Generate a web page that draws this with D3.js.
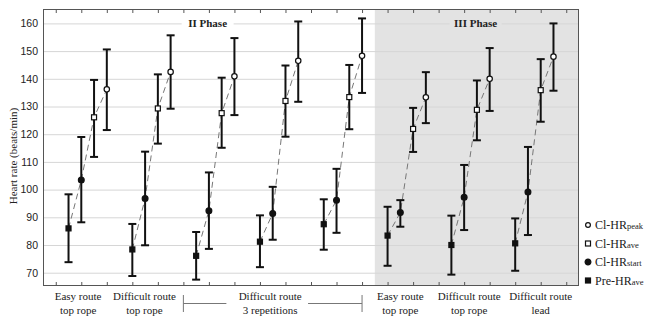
<!DOCTYPE html>
<html>
<head>
<meta charset="utf-8">
<script src="https://cdn.jsdelivr.net/npm/d3@7"></script>
<style>
  body { margin: 0; background: #fff; }
  svg { display: block; }
</style>
</head>
<body>
<script>
'use strict';

// one group per task, four measures each
const groups = ['Easy route top rope (II)', 'Difficult route top rope (II)', 'Rep 1', 'Rep 2', 'Rep 3',
                'Easy route top rope (III)', 'Difficult route top rope (III)', 'Difficult route lead'];

const pre     = [86.0, 78.4, 76.1, 81.2, 87.5, 83.4, 80.0, 80.6];
const preLo   = [73.8, 68.8, 67.5, 72.0, 78.3, 72.5, 69.3, 70.7];
const preHi   = [98.3, 87.6, 84.7, 90.7, 96.5, 93.8, 90.6, 89.6];
const start   = [103.5, 96.8, 92.4, 91.4, 96.2, 91.7, 97.2, 99.1];
const startLo = [88.2, 79.9, 78.6, 81.9, 84.4, 86.6, 85.4, 83.6];
const startHi = [119.0, 113.7, 106.2, 101.0, 107.5, 96.2, 108.9, 115.4];
const ave     = [126.1, 129.3, 127.6, 132.0, 133.4, 121.9, 128.8, 135.9];
const aveLo   = [111.8, 116.6, 115.1, 119.1, 121.8, 113.6, 117.8, 124.5];
const aveHi   = [139.6, 141.6, 140.4, 144.8, 145.0, 129.5, 139.4, 147.1];
const peak    = [136.2, 142.5, 140.9, 146.5, 148.3, 133.3, 140.0, 148.0];
const peakLo  = [121.5, 129.2, 126.9, 131.7, 134.9, 124.0, 128.4, 135.7];
const peakHi  = [150.6, 155.7, 154.7, 160.7, 161.8, 142.4, 151.1, 160.0];

const yTicks = [70, 80, 90, 100, 110, 120, 130, 140, 150, 160];

// x labels, with their centre on the index axis
const xLabels = [['Easy route', 'top rope'], ['Difficult route', 'top rope'], ['Difficult route', '3 repetitions'],
                 ['Easy route', 'top rope'], ['Difficult route', 'top rope'], ['Difficult route', 'lead']];
const xLabelAt = [0.75, 5.95, 15.8, 26.0, 31.4, 37.0];
const bracketFrom = 9, bracketTo = 23;

const phases = ['II Phase', 'III Phase'];
const phaseAt = [10.9, 31.9];
const phaseIIIFrom = 24;

const series = [
  {name: 'Pre-HR', sub: 'ave',   mean: pre,   lo: preLo,   hi: preHi,   shape: 'square', fill: '#111'},
  {name: 'Cl-HR',  sub: 'start', mean: start, lo: startLo, hi: startHi, shape: 'circle', fill: '#111'},
  {name: 'Cl-HR',  sub: 'ave',   mean: ave,   lo: aveLo,   hi: aveHi,   shape: 'square', fill: '#fff'},
  {name: 'Cl-HR',  sub: 'peak',  mean: peak,  lo: peakLo,  hi: peakHi,  shape: 'circle', fill: '#fff'}
];

const width = 662, height = 325;
const margin = {top: 9, right: 83, bottom: 39, left: 43};
const serif = '"Liberation Serif", "Times New Roman", serif';
const sans = '"Liberation Sans", Arial, sans-serif';

const x = d3.scaleLinear().domain([-2, 40]).range([margin.left, width - margin.right]);
const y = d3.scaleLinear().domain([65.2, 165.2]).range([height - margin.bottom, margin.top]);

const svg = d3.select('body').append('svg')
  .attr('width', width)
  .attr('height', height);

// phase III shading
svg.append('rect')
  .attr('x', x(phaseIIIFrom)).attr('y', y.range()[1])
  .attr('width', x(40) - x(phaseIIIFrom)).attr('height', y.range()[0] - y.range()[1])
  .attr('fill', '#e3e3e3');

// grid
svg.append('g').selectAll('line').data(yTicks).join('line')
  .attr('x1', x(-2)).attr('x2', x(40))
  .attr('y1', d => y(d) + 0.5).attr('y2', d => y(d) + 0.5)
  .attr('stroke', '#d6d6d6').attr('stroke-width', 1);

// phase titles with a box in the background colour
const ph = svg.append('g').selectAll('g').data(phases).join('g')
  .attr('transform', (d, i) => `translate(${x(phaseAt[i])},${y(160)})`);
ph.append('rect')
  .attr('x', -26).attr('y', -6).attr('width', 52).attr('height', 12)
  .attr('fill', (d, i) => i === 0 ? '#fff' : '#e3e3e3');
ph.append('text')
  .attr('text-anchor', 'middle').attr('dy', '0.35em')
  .attr('font-family', serif).attr('font-size', 11).attr('font-weight', 'bold')
  .attr('fill', '#222')
  .text(d => d);

const idx = (g, k) => g * 5 + k;

// dashed connectors
const line = d3.line().x(d => x(d[0])).y(d => y(d[1]));
svg.append('g').selectAll('path').data(groups).join('path')
  .attr('d', (d, g) => line(series.map((s, k) => [idx(g, k), s.mean[g]])))
  .attr('fill', 'none').attr('stroke', '#777').attr('stroke-width', 1)
  .attr('stroke-dasharray', '6,4');

// error bars and markers
series.forEach((s, k) => {
  const gEl = svg.append('g');
  const bar = gEl.selectAll('g').data(groups).join('g')
    .attr('stroke', '#111').attr('stroke-width', 2);
  bar.append('line')
    .attr('x1', (d, g) => x(idx(g, k))).attr('x2', (d, g) => x(idx(g, k)))
    .attr('y1', (d, g) => y(s.lo[g])).attr('y2', (d, g) => y(s.hi[g]));
  [s.lo, s.hi].forEach(arr => {
    bar.append('line')
      .attr('x1', (d, g) => x(idx(g, k)) - 4).attr('x2', (d, g) => x(idx(g, k)) + 4)
      .attr('y1', (d, g) => y(arr[g])).attr('y2', (d, g) => y(arr[g]));
  });
  gEl.selectAll('.mk').data(groups).join(d => s.shape === 'circle'
      ? d.append('circle').attr('r', s.fill === '#fff' ? 2.7 : 2.9)
      : d.append('rect').attr('width', 5).attr('height', 5))
    .attr('class', 'mk')
    .attr('cx', (d, g) => x(idx(g, k))).attr('cy', (d, g) => y(s.mean[g]))
    .attr('x', (d, g) => x(idx(g, k)) - 2.5).attr('y', (d, g) => y(s.mean[g]) - 2.5)
    .attr('fill', s.fill).attr('stroke', '#111').attr('stroke-width', 1.2);
});

// frame
svg.append('rect')
  .attr('x', x(-2) + 0.5).attr('y', y.range()[1] + 0.5)
  .attr('width', x(40) - x(-2) - 1).attr('height', y.range()[0] - y.range()[1] - 1)
  .attr('fill', 'none').attr('stroke', '#555').attr('stroke-width', 1);

// inward ticks top and bottom
const xt = d3.range(-1, 40, 2);
svg.append('g')
  .attr('transform', `translate(0,${y.range()[0]})`)
  .call(d3.axisBottom(x).tickValues(xt).tickSizeInner(-4).tickSizeOuter(0).tickFormat(''))
  .call(g => g.select('.domain').remove())
  .call(g => g.selectAll('line').attr('stroke', '#555'));
svg.append('g')
  .attr('transform', `translate(0,${y.range()[1]})`)
  .call(d3.axisTop(x).tickValues(xt).tickSizeInner(-4).tickSizeOuter(0).tickFormat(''))
  .call(g => g.select('.domain').remove())
  .call(g => g.selectAll('line').attr('stroke', '#555'));

// y axis labels
svg.append('g')
  .attr('transform', `translate(${x(-2)},0)`)
  .call(d3.axisLeft(y).tickValues(yTicks).tickSize(0).tickPadding(5))
  .call(g => g.select('.domain').remove())
  .call(g => g.selectAll('text')
    .attr('font-family', sans).attr('font-size', 10.5).attr('fill', '#222'));

svg.append('text')
  .attr('transform', `translate(13,${(y(70) + y(160)) / 2 + 8}) rotate(-90)`)
  .attr('text-anchor', 'middle').attr('dy', '0.35em')
  .attr('font-family', serif).attr('font-size', 11).attr('fill', '#222')
  .text('Heart rate (beats/min)');

// category labels
const xl = svg.append('g').selectAll('text').data(xLabels).join('text')
  .attr('text-anchor', 'middle')
  .attr('font-family', serif).attr('font-size', 11).attr('fill', '#222');
xl.selectAll('tspan').data((d, i) => d.map(t => [t, xLabelAt[i]])).join('tspan')
  .attr('x', d => x(d[1]))
  .attr('y', (d, j) => 300 + j * 14)
  .text(d => d[0]);

// bracket for the three repetitions
const bk = svg.append('g').attr('stroke', '#777').attr('stroke-width', 1);
[bracketFrom, bracketTo].forEach(v => {
  bk.append('line').attr('x1', x(v)).attr('x2', x(v)).attr('y1', 295).attr('y2', 312);
});
bk.append('line').attr('x1', x(bracketFrom)).attr('x2', x(bracketFrom) + 43).attr('y1', 303.5).attr('y2', 303.5);
bk.append('line').attr('x1', x(bracketTo) - 54).attr('x2', x(bracketTo)).attr('y1', 303.5).attr('y2', 303.5);

// legend, peak on top
const leg = svg.append('g').selectAll('g').data(series.slice().reverse()).join('g')
  .attr('transform', (d, i) => `translate(588,${225 + i * 18.5})`);
leg.each(function (s) {
  const g = d3.select(this);
  if (s.shape === 'circle') {
    g.append('circle').attr('r', s.fill === '#fff' ? 2.4 : 2.9);
  } else {
    g.append('rect').attr('x', -2.5).attr('y', -2.5).attr('width', 5).attr('height', 5);
  }
  g.select(':first-child').attr('fill', s.fill).attr('stroke', '#111').attr('stroke-width', 1.2);
  const t = g.append('text').attr('x', 7).attr('y', 4)
    .attr('font-family', serif).attr('font-size', 12).attr('fill', '#222');
  t.append('tspan').text(s.name);
  t.append('tspan').attr('font-size', 8.5).text(s.sub);
});
</script>
</body>
</html>
